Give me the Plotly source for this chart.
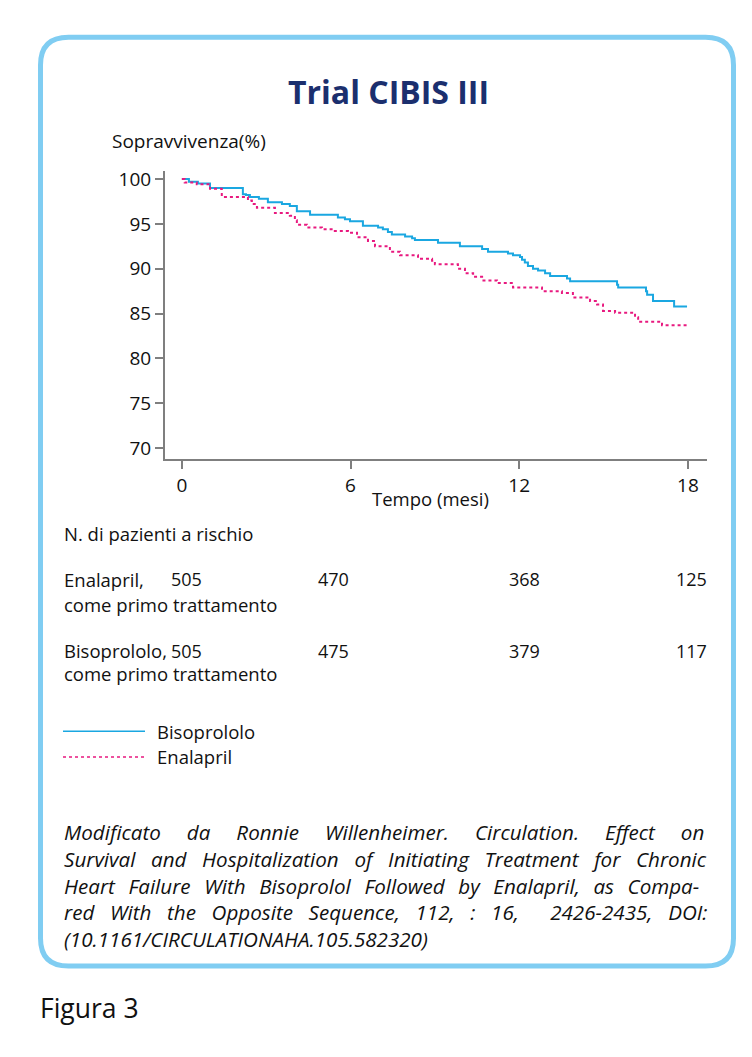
import plotly.graph_objects as go

W, H = 752, 1057

# ---- data ----
bis_t = [0, 0.25, 0.57, 1.0, 2.17, 2.28, 2.42, 2.74, 3.06, 3.56, 3.84, 4.09, 4.56, 5.55, 5.8, 5.98,
         6.44, 6.98, 7.15, 7.33, 7.47, 7.94, 8.19, 8.29, 9.11, 9.89, 10.68, 10.89, 11.6, 11.78,
         12.03, 12.1, 12.2, 12.31, 12.49, 12.67, 12.92, 13.1, 13.7, 13.81, 15.48, 15.52, 16.51,
         16.55, 16.76, 17.51, 17.97]
bis_s = [100, 99.7, 99.5, 99.0, 98.3, 98.2, 98.0, 97.8, 97.4, 97.2, 97.0, 96.4, 96.0, 95.7, 95.5, 95.3,
         94.8, 94.6, 94.4, 94.1, 93.8, 93.6, 93.4, 93.2, 92.9, 92.5, 92.2, 91.9, 91.7, 91.5,
         91.3, 91.0, 90.7, 90.3, 90.0, 89.8, 89.5, 89.2, 88.9, 88.6, 88.2, 87.9, 87.5,
         87.1, 86.4, 85.8, 85.8]

ena_t = [0, 0.1, 0.53, 1.0, 1.42, 2.35, 2.49, 2.67, 3.31, 3.84, 4.02, 4.09, 4.45, 4.98, 5.44, 5.91,
         6.23, 6.62, 6.87, 7.4, 7.76, 8.4, 8.9, 9.0, 9.82, 10.07, 10.36, 10.68, 11.21, 11.78,
         12.81, 13.52, 13.91, 14.52, 14.77, 14.98, 15.41, 16.12, 16.23, 17.08, 17.97]
ena_s = [100, 99.6, 99.4, 98.9, 98.0, 97.6, 97.2, 96.8, 96.2, 95.9, 95.4, 94.9, 94.6, 94.4, 94.2, 94.0,
         93.5, 93.1, 92.5, 91.9, 91.5, 91.1, 90.9, 90.5, 90.0, 89.5, 89.1, 88.7, 88.4, 87.9,
         87.5, 87.3, 86.8, 86.4, 86.0, 85.3, 85.1, 84.6, 84.1, 83.7, 83.7]

x_ticks = [0, 6, 12, 18]
y_ticks = [70, 75, 80, 85, 90, 95, 100]

risk_ena = [505, 470, 368, 125]
risk_bis = [505, 475, 379, 117]

caption_lines = [
    "Modificato da Ronnie Willenheimer. Circulation. Effect on",
    "Survival and Hospitalization of Initiating Treatment for Chronic",
    "Heart Failure With Bisoprolol Followed by Enalapril, as Compa-",
    "red With the Opposite Sequence, 112, : 16,  2426-2435, DOI:",
    "(10.1161/CIRCULATIONAHA.105.582320)",
]
# extra hair spaces per word gap (to imitate justified text)
caption_pad = [10, 5, 4, 5, 0]

BLUE = "#1aa7e1"
PINK = "#e8197f"
NAVY = "#1b2f6e"
FRAME = "#80cdf2"
FONT = "Open Sans"
BASE = 18.5


def px(x):
    return x / W


def py(y):
    return 1 - y / H


fig = go.Figure()
fig.add_trace(go.Scatter(x=bis_t, y=bis_s, mode="lines", line=dict(color=BLUE, width=2, shape="hv"),
                         name="Bisoprololo", showlegend=False))
fig.add_trace(go.Scatter(x=ena_t, y=ena_s, mode="lines", line=dict(color=PINK, width=2, shape="hv", dash="dot"),
                         name="Enalapril", showlegend=False))

axis_common = dict(showline=True, linecolor="#7f7f7f", linewidth=2, ticks="outside", tickcolor="#7f7f7f",
                   tickwidth=1.5, ticklen=8, showgrid=False, zeroline=False,
                   tickfont=dict(family=FONT, size=19, color="#111"))
fig.update_xaxes(domain=[px(165), px(707)], range=[-0.6, 18.68], tickvals=x_ticks, **axis_common)
fig.update_yaxes(domain=[py(457), py(167)], range=[68.8, 100.9], tickvals=y_ticks, **axis_common)

ann = []


def text(x, y, s, size=BASE, anchor="left", **kw):
    ann.append(dict(x=px(x), y=py(y), xref="paper", yref="paper", text=s, showarrow=False,
                    xanchor=anchor, yanchor="middle", font=dict(family=FONT, size=size, color="#111"), **kw))


ann.append(dict(x=px(388), y=py(87), xref="paper", yref="paper", text="<b>Trial CIBIS III</b>",
                showarrow=False, xanchor="center", yanchor="middle",
                font=dict(family=FONT, size=32, color=NAVY)))
text(110, 137, "Sopravvivenza(%)", size=19)
text(431, 497, "Tempo (mesi)", anchor="center")
text(62, 532, "N. di pazienti a rischio")
text(62, 578, "Enalapril,")
text(62, 603, "come primo trattamento")
text(62, 650, "Bisoprololo,")
text(62, 673, "come primo trattamento")

shifts = [5, -17, 5, 4]
for row_y, vals in ((578, risk_ena), (650, risk_bis)):
    for t, v, sh in zip(x_ticks, vals, shifts):
        ann.append(dict(x=t, y=py(row_y), xref="x", yref="paper", text=str(v), showarrow=False,
                        xanchor="center", yanchor="middle", xshift=sh,
                        font=dict(family=FONT, size=18, color="#111")))

text(155, 731, "Bisoprololo")
text(155, 757, "Enalapril")

cap = "<br>".join((" " + "\u200a" * pad).join(line.split(" "))
                  for line, pad in zip(caption_lines, caption_pad))
text(62, 886, "<i>" + cap + "</i>", size=20.6, align="left")

text(38, 1010, "Figura 3", size=26.5)

shapes = [
    dict(type="line", xref="paper", yref="paper", x0=px(63), x1=px(145), y0=py(731), y1=py(731),
         line=dict(color=BLUE, width=1.5)),
    dict(type="line", xref="paper", yref="paper", x0=px(63), x1=px(145), y0=py(757), y1=py(757),
         line=dict(color=PINK, width=1.5, dash="dot")),
]

# rounded frame
x0, x1, y0, y1, r = 40.5, 733.5, 32.5, 967.5, 28
path = (f"M {px(x0 + r)},{py(y0)} L {px(x1 - r)},{py(y0)} Q {px(x1)},{py(y0)} {px(x1)},{py(y0 + r)} "
        f"L {px(x1)},{py(y1 - r)} Q {px(x1)},{py(y1)} {px(x1 - r)},{py(y1)} "
        f"L {px(x0 + r)},{py(y1)} Q {px(x0)},{py(y1)} {px(x0)},{py(y1 - r)} "
        f"L {px(x0)},{py(y0 + r)} Q {px(x0)},{py(y0)} {px(x0 + r)},{py(y0)} Z")
shapes.append(dict(type="path", xref="paper", yref="paper", path=path, line=dict(color=FRAME, width=5)))

fig.update_layout(width=W, height=H, autosize=False, margin=dict(l=0, r=0, t=0, b=0),
                  paper_bgcolor="white", plot_bgcolor="white", annotations=ann, shapes=shapes,
                  showlegend=False)

fig.write_html("out.html", config={"displayModeBar": False},
               post_script="document.body.style.margin='0';document.body.style.overflow='hidden';")
